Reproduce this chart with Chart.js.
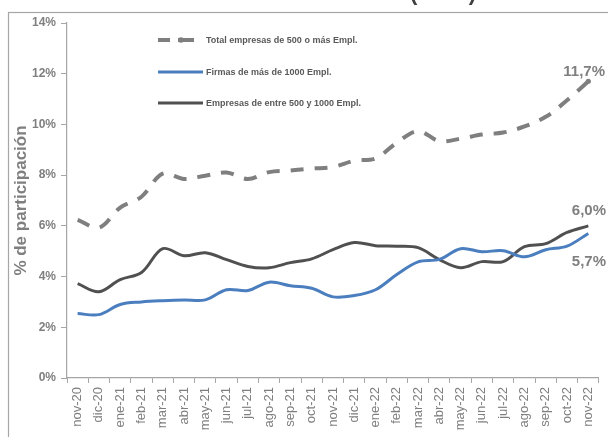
<!DOCTYPE html>
<html><head><meta charset="utf-8">
<script src="https://cdn.jsdelivr.net/npm/chart.js@4/dist/chart.umd.min.js"></script>
<style>html,body{margin:0;padding:0;background:#fff;overflow:hidden}</style>
</head><body>
<canvas id="c" width="608" height="437" style="width:608px;height:437px;display:block"></canvas>
<script>
const categories = ['nov-20','dic-20','ene-21','feb-21','mar-21','abr-21','may-21','jun-21','jul-21','ago-21','sep-21','oct-21','nov-21','dic-21','ene-22','feb-22','mar-22','abr-22','may-22','jun-22','jul-22','ago-22','sep-22','oct-22','nov-22'];
const totalValues = [6.24,5.93,6.72,7.15,8.06,7.85,7.98,8.1,7.85,8.12,8.18,8.26,8.32,8.57,8.66,9.28,9.74,9.34,9.44,9.6,9.68,9.92,10.3,10.95,11.7];
const firmasValues = [2.54,2.5,2.9,3.0,3.05,3.08,3.08,3.48,3.45,3.78,3.64,3.54,3.2,3.25,3.48,4.08,4.58,4.68,5.1,4.98,5.02,4.78,5.06,5.2,5.7];
const empresasValues = [3.72,3.4,3.88,4.16,5.1,4.82,4.94,4.67,4.4,4.35,4.55,4.7,5.06,5.34,5.22,5.2,5.14,4.67,4.35,4.59,4.59,5.18,5.3,5.74,6.0];
const seriesLabels = ['Total empresas de 500 o más Empl.','Firmas de más de 1000 Empl.','Empresas de entre 500 y 1000 Empl.'];
const yTickValues = [0,2,4,6,8,10,12,14];
const yAxisTitle = '% de participación';
const chartTitle = '(en %)';

const colTotal = '#7f7f7f', colFirmas = '#4a7ebf', colEmpresas = '#505050';
const fmt = v => v.toFixed(1).replace('.', ',') + '%';

const decor = {
  id: 'decor',
  beforeDraw(chart) {
    const ctx = chart.ctx;
    ctx.save();
    ctx.strokeStyle = '#a6a6a6'; ctx.lineWidth = 1.2;
    ctx.strokeRect(8.5, 12.5, 720, 500);
    ctx.fillStyle = '#404040';
    ctx.font = 'bold 22px Arial, "Liberation Sans"';
    ctx.textAlign = 'center'; ctx.textBaseline = 'alphabetic';
    ctx.fillText(chartTitle, 443, 0);
    ctx.restore();
  },
  afterDatasetsDraw(chart) {
    const ctx = chart.ctx;
    ctx.save();
    const rows = [40, 72, 103];
    const ds = chart.data.datasets;
    ds.forEach((d, i) => {
      const y = rows[i];
      ctx.strokeStyle = d.borderColor; ctx.lineWidth = d.borderWidth; ctx.lineCap = 'butt';
      ctx.setLineDash([]);
      if (i === 0) {
        ctx.beginPath(); ctx.moveTo(158, y); ctx.lineTo(170, y); ctx.moveTo(178, y); ctx.lineTo(194, y); ctx.stroke();
        ctx.fillStyle = d.borderColor; ctx.beginPath(); ctx.arc(181, y, 2.8, 0, Math.PI*2); ctx.fill();
      } else {
        ctx.beginPath(); ctx.moveTo(158, y); ctx.lineTo(203, y); ctx.stroke();
      }
      ctx.fillStyle = '#595959';
      ctx.font = 'bold 9px Arial, "Liberation Sans"';
      ctx.textAlign = 'left'; ctx.textBaseline = 'middle';
      ctx.fillText(d.label, 206, y + 0.5);
    });
    const ys = chart.scales.y;
    const last = categories.length - 1;
    ctx.fillStyle = '#7f7f7f';
    ctx.font = 'bold 15px Arial, "Liberation Sans"';
    ctx.textAlign = 'right'; ctx.textBaseline = 'middle';
    ctx.fillText(fmt(totalValues[last]), 605, ys.getPixelForValue(totalValues[last]) - 9);
    ctx.fillText(fmt(empresasValues[last]), 606, ys.getPixelForValue(empresasValues[last]) - 15);
    ctx.fillText(fmt(firmasValues[last]), 606, ys.getPixelForValue(firmasValues[last]) + 28);
    ctx.restore();
  }
};

const totalRadius = totalValues.map((v, i) => i === totalValues.length - 1 ? 2.6 : 0);

new Chart(document.getElementById('c'), {
  type: 'line',
  data: {
    labels: categories,
    datasets: [
      { label: seriesLabels[0], data: totalValues, borderColor: colTotal, backgroundColor: colTotal, borderWidth: 4, borderDash: [13, 11], pointRadius: totalRadius, pointBorderWidth: 0, tension: 0.35 },
      { label: seriesLabels[1], data: firmasValues, borderColor: colFirmas, backgroundColor: colFirmas, borderWidth: 3, pointRadius: 0, tension: 0.35 },
      { label: seriesLabels[2], data: empresasValues, borderColor: colEmpresas, backgroundColor: colEmpresas, borderWidth: 3, pointRadius: 0, tension: 0.35 }
    ]
  },
  options: {
    responsive: false,
    animation: false,
    devicePixelRatio: 1,
    layout: { padding: { left: 11, top: 23, right: 5, bottom: 0 } },
    plugins: { legend: { display: false }, tooltip: { enabled: false }, title: { display: false } },
    scales: {
      x: {
        type: 'category', offset: true,
        grid: { offset: true, drawOnChartArea: false, drawTicks: true, tickLength: 5, color: '#a6a6a6' },
        border: { color: '#a6a6a6', width: 1.2 },
        ticks: { autoSkip: false, minRotation: 90, maxRotation: 90, padding: 4, color: '#7f7f7f', font: { family: 'Arial, "Liberation Sans"', size: 13 } },
        afterFit(s) { s.height = 59; }
      },
      y: {
        min: 0, max: 14,
        afterBuildTicks(s) { s.ticks = yTickValues.map(v => ({ value: v })); },
        grid: { drawOnChartArea: false, drawTicks: true, tickLength: 6, color: '#a6a6a6' },
        border: { color: '#a6a6a6', width: 1.2 },
        ticks: { padding: 5, color: '#7f7f7f', font: { family: 'Arial, "Liberation Sans"', size: 12, weight: 'bold' }, callback: v => v + '%' },
        title: { display: true, text: yAxisTitle, color: '#7f7f7f', padding: 0, font: { family: 'Arial, "Liberation Sans"', size: 17, weight: 'bold' } },
        afterFit(s) { s.width = 56; }
      }
    }
  },
  plugins: [decor]
});
</script>
</body></html>
